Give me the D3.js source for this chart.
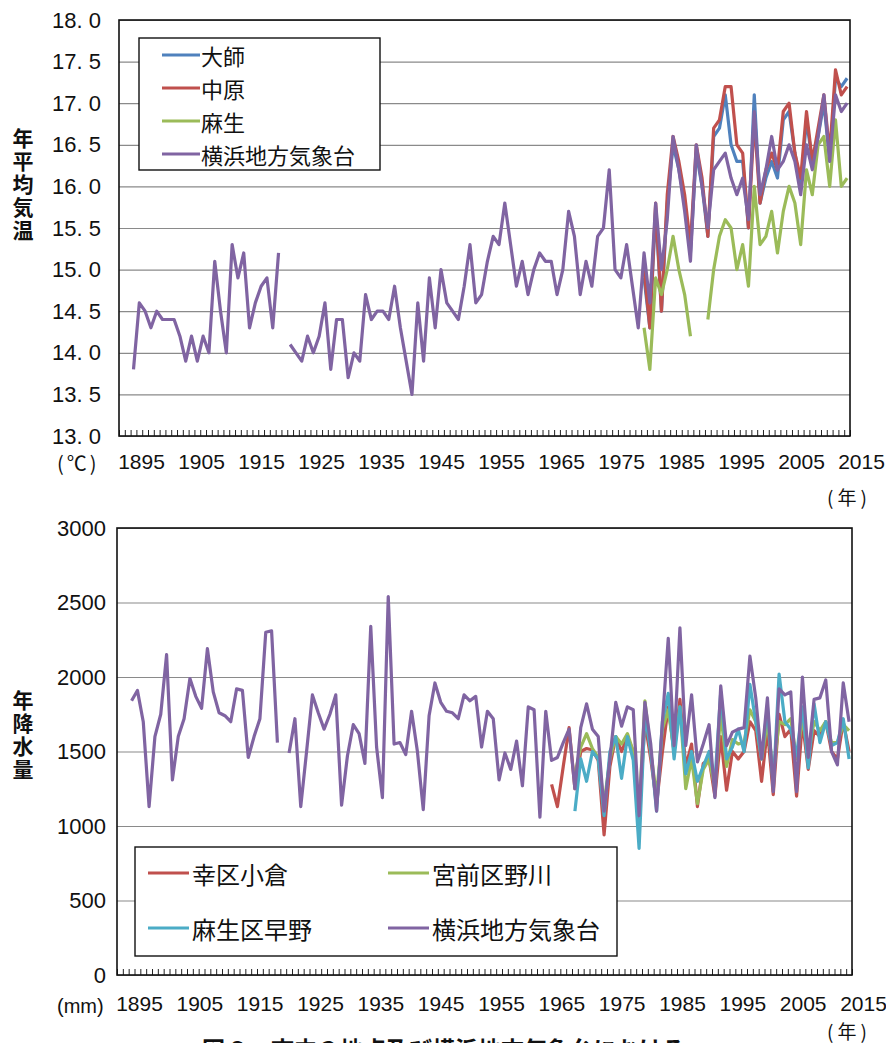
<!DOCTYPE html>
<html>
<head>
<meta charset="utf-8">
<script src="https://cdn.jsdelivr.net/npm/d3@7"></script>
<style>
body { margin: 0; background: #fff; }
svg text { font-family: "Liberation Sans", Arial, sans-serif; fill: #111; }
svg .jp { font-family: "Noto Sans CJK JP", sans-serif; }
</style>
</head>
<body>
<svg id="chart" width="886" height="1043"></svg>
<script>
// x categories and label row
const firstYear = 1895, lastYear = 2020;
const labelYears = [1895, 1905, 1915, 1925, 1935, 1945, 1955, 1965, 1975, 1985, 1995, 2005, 2015];
const tempTicks = [13.0, 13.5, 14.0, 14.5, 15.0, 15.5, 16.0, 16.5, 17.0, 17.5, 18.0];
const rainTicks = [0, 500, 1000, 1500, 2000, 2500, 3000];

// annual mean temperature (℃)
const tempYokohama = [ // from 1897
  13.8, 14.6, 14.5, 14.3, 14.5, 14.4, 14.4, 14.4, 14.2, 13.9,
  14.2, 13.9, 14.2, 14.0, 15.1, 14.5, 14.0, 15.3, 14.9, 15.2,
  14.3, 14.6, 14.8, 14.9, 14.3, 15.2, null, 14.1, 14.0, 13.9,
  14.2, 14.0, 14.2, 14.6, 13.8, 14.4, 14.4, 13.7, 14.0, 13.9,
  14.7, 14.4, 14.5, 14.5, 14.4, 14.8, 14.3, 13.9, 13.5, 14.6,
  13.9, 14.9, 14.3, 15.0, 14.6, 14.5, 14.4, 14.8, 15.3, 14.6,
  14.7, 15.1, 15.4, 15.3, 15.8, 15.3, 14.8, 15.1, 14.7, 15.0,
  15.2, 15.1, 15.1, 14.7, 15.0, 15.7, 15.4, 14.7, 15.1, 14.8,
  15.4, 15.5, 16.2, 15.0, 14.9, 15.3, 14.8, 14.3, 15.2, 14.6,
  15.8, 15.0, 15.6, 16.6, 16.2, 15.7, 15.1, 16.5, 16.0, 15.5,
  16.2, 16.3, 16.4, 16.1, 15.9, 16.1, 15.6, 16.9, 15.9, 16.2,
  16.6, 16.2, 16.3, 16.5, 16.3, 15.9, 16.5, 16.2, 16.6, 17.1,
  16.3, 17.1, 16.9, 17.0
];
const tempNakahara = [ // from 1985
  15.0, 14.3, 15.8, 14.5, 15.9, 16.6, 16.3, 15.9, 15.3, 16.5,
  16.1, 15.4, 16.7, 16.8, 17.2, 17.2, 16.5, 16.4, 15.5, 16.8,
  15.8, 16.2, 16.4, 16.2, 16.9, 17.0, 16.4, 16.1, 16.9, 16.3,
  16.7, 17.1, 16.4, 17.4, 17.1, 17.2
];
const tempDaishi = [ // from 1985
  14.9, 14.3, 15.7, 14.5, 15.8, 16.5, 16.2, 15.8, 15.2, 16.4,
  16.0, 15.4, 16.6, 16.7, 17.1, 16.5, 16.3, 16.3, 15.5, 17.1,
  15.8, 16.1, 16.3, 16.1, 16.8, 16.9, 16.4, 16.0, 16.8, 16.3,
  16.6, 17.0, 16.3, 17.3, 17.2, 17.3
];
const tempAsao = [ // from 1985
  14.3, 13.8, 14.9, 14.7, 15.0, 15.4, 15.0, 14.7, 14.2, null,
  null, 14.4, 15.0, 15.4, 15.6, 15.5, 15.0, 15.3, 14.8, 16.0,
  15.3, 15.4, 15.7, 15.2, 15.7, 16.0, 15.8, 15.3, 16.2, 15.9,
  16.5, 16.6, 16.0, 16.8, 16.0, 16.1
];

// annual precipitation (mm)
const rainYokohama = [ // from 1897
  1840, 1910, 1700, 1130, 1600, 1750, 2150, 1310, 1600, 1720,
  1990, 1870, 1790, 2190, 1900, 1760, 1740, 1700, 1920, 1910,
  1460, 1600, 1720, 2300, 2310, 1560, null, 1490, 1720, 1130,
  1500, 1880, 1760, 1650, 1750, 1880, 1140, 1470, 1680, 1620,
  1420, 2340, 1530, 1190, 2540, 1550, 1560, 1480, 1770, 1500,
  1110, 1740, 1960, 1830, 1770, 1760, 1720, 1880, 1840, 1870,
  1530, 1770, 1720, 1310, 1490, 1380, 1570, 1270, 1800, 1780,
  1060, 1770, 1440, 1460, 1560, 1650, 1250, 1660, 1820, 1650,
  1600, 1100, 1450, 1830, 1670, 1800, 1780, 1070, 1830, 1550,
  1100, 1700, 2260, 1540, 2330, 1540, 1880, 1430, 1550, 1680,
  1190, 1940, 1540, 1630, 1650, 1660, 2140, 1860, 1450, 1860,
  1230, 1920, 1880, 1900, 1230, 2000, 1460, 1850, 1860, 1980,
  1500, 1410, 1960, 1700
];
const rainSaiwai = [ // from 1969
  1280, 1130, 1400, 1660, 1250, 1500, 1520, 1510, 1440, 940,
  1400, 1600, 1500, 1600, 1500, 1050, 1700, 1450, 1150, 1500,
  1800, 1500, 1850, 1400, 1550, 1130, 1420, 1450, 1200, 1600,
  1240, 1500, 1450, 1500, 1700, 1640, 1300, 1650, 1210, 1750,
  1600, 1650, 1200, 1700, 1380, 1640, 1600, 1700, 1500, 1450,
  1700, 1500
];
const rainMiyamae = [ // from 1973
  1350, 1530, 1620, 1520, 1460, 1150, 1450, 1600, 1550, 1620,
  1500, 1100, 1840, 1500, 1200, 1650, 1780, 1500, 1800, 1250,
  1450, 1150, 1380, 1450, 1250, 1760, 1400, 1580, 1550, 1560,
  1780, 1700, 1450, 1700, 1350, 1700, 1680, 1720, 1450, 1720,
  1480, 1700, 1640, 1700, 1560, 1560, 1680, 1640
];
const rainAsao = [ // from 1973
  1100, 1450, 1300, 1500, 1450, 1070, 1500, 1600, 1320, 1600,
  1440, 850, 1750, 1500, 1100, 1700, 1890, 1450, 1800, 1350,
  1500, 1300, 1400, 1500, 1300, 1900, 1450, 1530, 1650, 1500,
  1950, 1700, 1450, 1800, 1260, 2020, 1700, 1650, 1470, 1800,
  1390, 1820, 1560, 1700, 1540, 1560, 1720, 1450
];

const tempSeries = [
  { name: "大師", color: "#4F81BD", start: 1985, values: tempDaishi },
  { name: "中原", color: "#C0504D", start: 1985, values: tempNakahara },
  { name: "麻生", color: "#9BBB59", start: 1985, values: tempAsao },
  { name: "横浜地方気象台", color: "#8064A2", start: 1897, values: tempYokohama }
];
const rainSeries = [
  { name: "幸区小倉", color: "#C0504D", start: 1969, values: rainSaiwai },
  { name: "宮前区野川", color: "#9BBB59", start: 1973, values: rainMiyamae },
  { name: "麻生区早野", color: "#4BACC6", start: 1973, values: rainAsao },
  { name: "横浜地方気象台", color: "#8064A2", start: 1897, values: rainYokohama }
];

const svg = d3.select("#chart");
const years = d3.range(firstYear, lastYear + 1);

function drawPanel(o) {
  const g = svg.append("g");
  const x = d3.scaleBand().domain(years).range([o.left, o.right]);
  const edge = d3.scaleLinear().domain([firstYear, lastYear + 1]).range([o.left, o.right]);
  const y = d3.scaleLinear().domain(o.domain).range([o.bottom, o.top]);

  // gridlines
  g.append("g")
    .attr("transform", `translate(${o.left},0)`)
    .call(d3.axisLeft(y).tickValues(o.ticks).tickSize(-(o.right - o.left)).tickFormat(""))
    .call(a => a.select(".domain").remove())
    .call(a => a.selectAll("line").attr("stroke", "#8a8a8a").attr("stroke-width", 1.2));

  // y labels
  g.append("g")
    .attr("transform", `translate(${o.left},0)`)
    .call(d3.axisLeft(y).tickValues(o.ticks).tickSize(0).tickPadding(o.yPad).tickFormat(o.fmt))
    .call(a => a.select(".domain").remove())
    .call(a => a.selectAll("text").style("font-size", "22px").attr("fill", "#111"));

  // x tick marks, one per year slot
  g.append("g")
    .attr("transform", `translate(0,${o.bottom})`)
    .call(d3.axisBottom(edge).tickValues(d3.range(firstYear, lastYear + 2)).tickSize(-6).tickFormat(""))
    .call(a => a.select(".domain").remove())
    .call(a => a.selectAll("line").attr("stroke", "#222").attr("stroke-width", 1));

  // year label row
  const labelX = d3.scaleLinear().domain([1895, 2015]).range([o.left + 22, o.right + 11]);
  g.append("g")
    .attr("transform", `translate(0,${o.labelY})`)
    .call(d3.axisBottom(labelX).tickValues(labelYears).tickSize(0).tickPadding(0).tickFormat(d3.format("d")))
    .call(a => a.select(".domain").remove())
    .call(a => a.selectAll("text").style("font-size", "21px").attr("fill", "#111"));

  // unit at the start of the label row, (年) under its end
  g.append("text").attr("class", o.unitClass)
    .attr("x", 57).attr("y", o.labelY + 17)
    .style("font-size", o.unitSize).style("letter-spacing", o.unitSpacing)
    .text(o.unit);
  g.append("text").attr("class", "jp")
    .attr("x", 827).attr("y", o.yearY)
    .style("font-size", "19px").style("letter-spacing", "4px")
    .text("(年)");

  // vertical axis title
  g.append("text").attr("class", "jp")
    .attr("x", 23).attr("y", o.titleY)
    .style("writing-mode", "vertical-rl")
    .style("letter-spacing", "2px")
    .style("font-size", "21px").style("font-weight", "bold")
    .text(o.title);

  // series
  const line = d3.line()
    .defined(d => d.v != null)
    .x(d => x(d.year) + x.bandwidth() / 2)
    .y(d => y(d.v));
  o.series.forEach(s => {
    const pts = s.values.map((v, i) => ({ year: s.start + i, v: v }));
    g.append("path")
      .datum(pts)
      .attr("d", line)
      .attr("fill", "none")
      .attr("stroke", s.color)
      .attr("stroke-width", 3.2)
      .attr("stroke-linejoin", "round");
  });

  // plot border
  g.append("rect")
    .attr("x", o.left).attr("y", o.top)
    .attr("width", o.right - o.left).attr("height", o.bottom - o.top)
    .attr("fill", "none").attr("stroke", "#111").attr("stroke-width", 1.6);
}

drawPanel({
  left: 119, right: 850, top: 20, bottom: 436,
  domain: [13, 18], ticks: tempTicks, yPad: 18,
  fmt: d => d3.format(".1f")(d).replace(".", ". "),
  series: tempSeries, labelY: 454, yearY: 505,
  unit: "(℃)", unitClass: "jp", unitSize: "20px", unitSpacing: "3px",
  title: "年平均気温", titleY: 128
});

drawPanel({
  left: 117, right: 852, top: 528, bottom: 975,
  domain: [0, 3000], ticks: rainTicks, yPad: 11,
  fmt: d3.format("d"),
  series: rainSeries, labelY: 996, yearY: 1039,
  unit: "(mm)", unitClass: "", unitSize: "20px", unitSpacing: "0px",
  title: "年降水量", titleY: 690
});

// legend, temperature panel
const leg1 = svg.append("g");
leg1.append("rect").attr("x", 139).attr("y", 38).attr("width", 241).attr("height", 132)
  .attr("fill", "#fff").attr("stroke", "#111").attr("stroke-width", 1.4);
tempSeries.forEach((s, i) => {
  const cy = 55 + i * 33;
  leg1.append("line").attr("x1", 162).attr("x2", 200).attr("y1", cy).attr("y2", cy)
    .attr("stroke", s.color).attr("stroke-width", 3.2);
  leg1.append("text").attr("class", "jp").attr("x", 201).attr("y", cy)
    .attr("dominant-baseline", "central").style("font-size", "22px").text(s.name);
});

// legend, precipitation panel
const leg2 = svg.append("g");
leg2.append("rect").attr("x", 135).attr("y", 847).attr("width", 482).attr("height", 109)
  .attr("fill", "#fff").attr("stroke", "#111").attr("stroke-width", 1.4);
rainSeries.forEach((s, i) => {
  const col = i % 2, row = Math.floor(i / 2);
  const lx = col ? 388 : 148, cy = row ? 928 : 873;
  leg2.append("line").attr("x1", lx).attr("x2", lx + 41).attr("y1", cy).attr("y2", cy)
    .attr("stroke", s.color).attr("stroke-width", 3.2);
  leg2.append("text").attr("class", "jp").attr("x", lx + 44).attr("y", cy)
    .attr("dominant-baseline", "central").style("font-size", "24px").text(s.name);
});

// figure caption (cut off at the bottom edge as in the page)
svg.append("text").attr("class", "jp")
  .attr("x", 202).attr("y", 1058)
  .style("font-size", "23px").style("font-weight", "bold")
  .text("図６　市内３地点及び横浜地方気象台における");
</script>
</body>
</html>
